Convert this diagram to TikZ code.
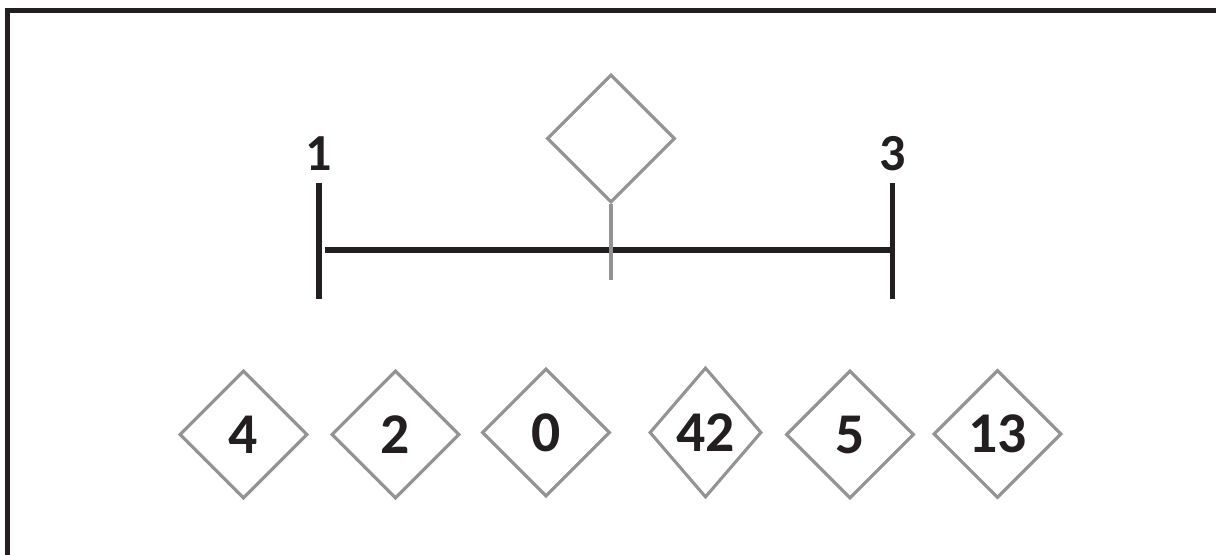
\documentclass[tikz,border=0pt]{standalone}
\usepackage{fontspec}
\setmainfont{Carlito}
\usepackage{tikz}
\usetikzlibrary{arrows.meta, positioning, shapes.geometric}
\definecolor{myInk}{HTML}{231F20}
\definecolor{myGray}{HTML}{939393}

\begin{document}
\begin{tikzpicture}[
x=0.025cm, y=-0.025cm,
card/.style={diamond, draw=myGray, line width=2.2pt, inner sep=0pt, minimum width=3.2cm, minimum height=3.2cm, text=myInk, font=\bfseries\fontsize{41}{41}\selectfont},
endlabel/.style={text=myInk, inner sep=0pt, font=\bfseries\fontsize{37}{37}\selectfont},
axis/.style={myInk, line width=4pt},
stem/.style={myGray, line width=3pt}
]
\clip (0,0) rectangle (1216,554);

% outer frame
\draw[myInk, line width=3.8pt] (7.5,10.5) rectangle (1240,580);

% number line
\coordinate (tl1) at (319,183);
\coordinate (tl2) at (319,299);
\coordinate (tr1) at (892.5,183);
\coordinate (tr2) at (892.5,299);
\coordinate (axl) at (325,250);
\coordinate (axr) at (892.5,250);

\draw[axis] (tl1) -- (tl2);
\draw[axis] (tr1) -- (tr2);
\draw[axis] (axl) -- (axr);

\node[endlabel] (lo) at (319,154) {1};
\node[endlabel] (hi) at (893,154) {3};

% marker
\node[card] (pick) at (611,138.5) {};
\coordinate (stemend) at (611,280);
\draw[stem] (pick.south) -- (stemend);

% cards
\node[card] (c4) at (243.5,434.5) {4};
\node[card] (c2) at (395.5,434.5) {2};
\node[card] (c0) at (546,432.5) {0};
\node[card, minimum width=2.8cm, minimum height=3.25cm] (c42) at (705.5,432.5) {42};
\node[card] (c5) at (850,434.5) {5};
\node[card] (c13) at (997.5,434) {13};
\end{tikzpicture}
\end{document}
